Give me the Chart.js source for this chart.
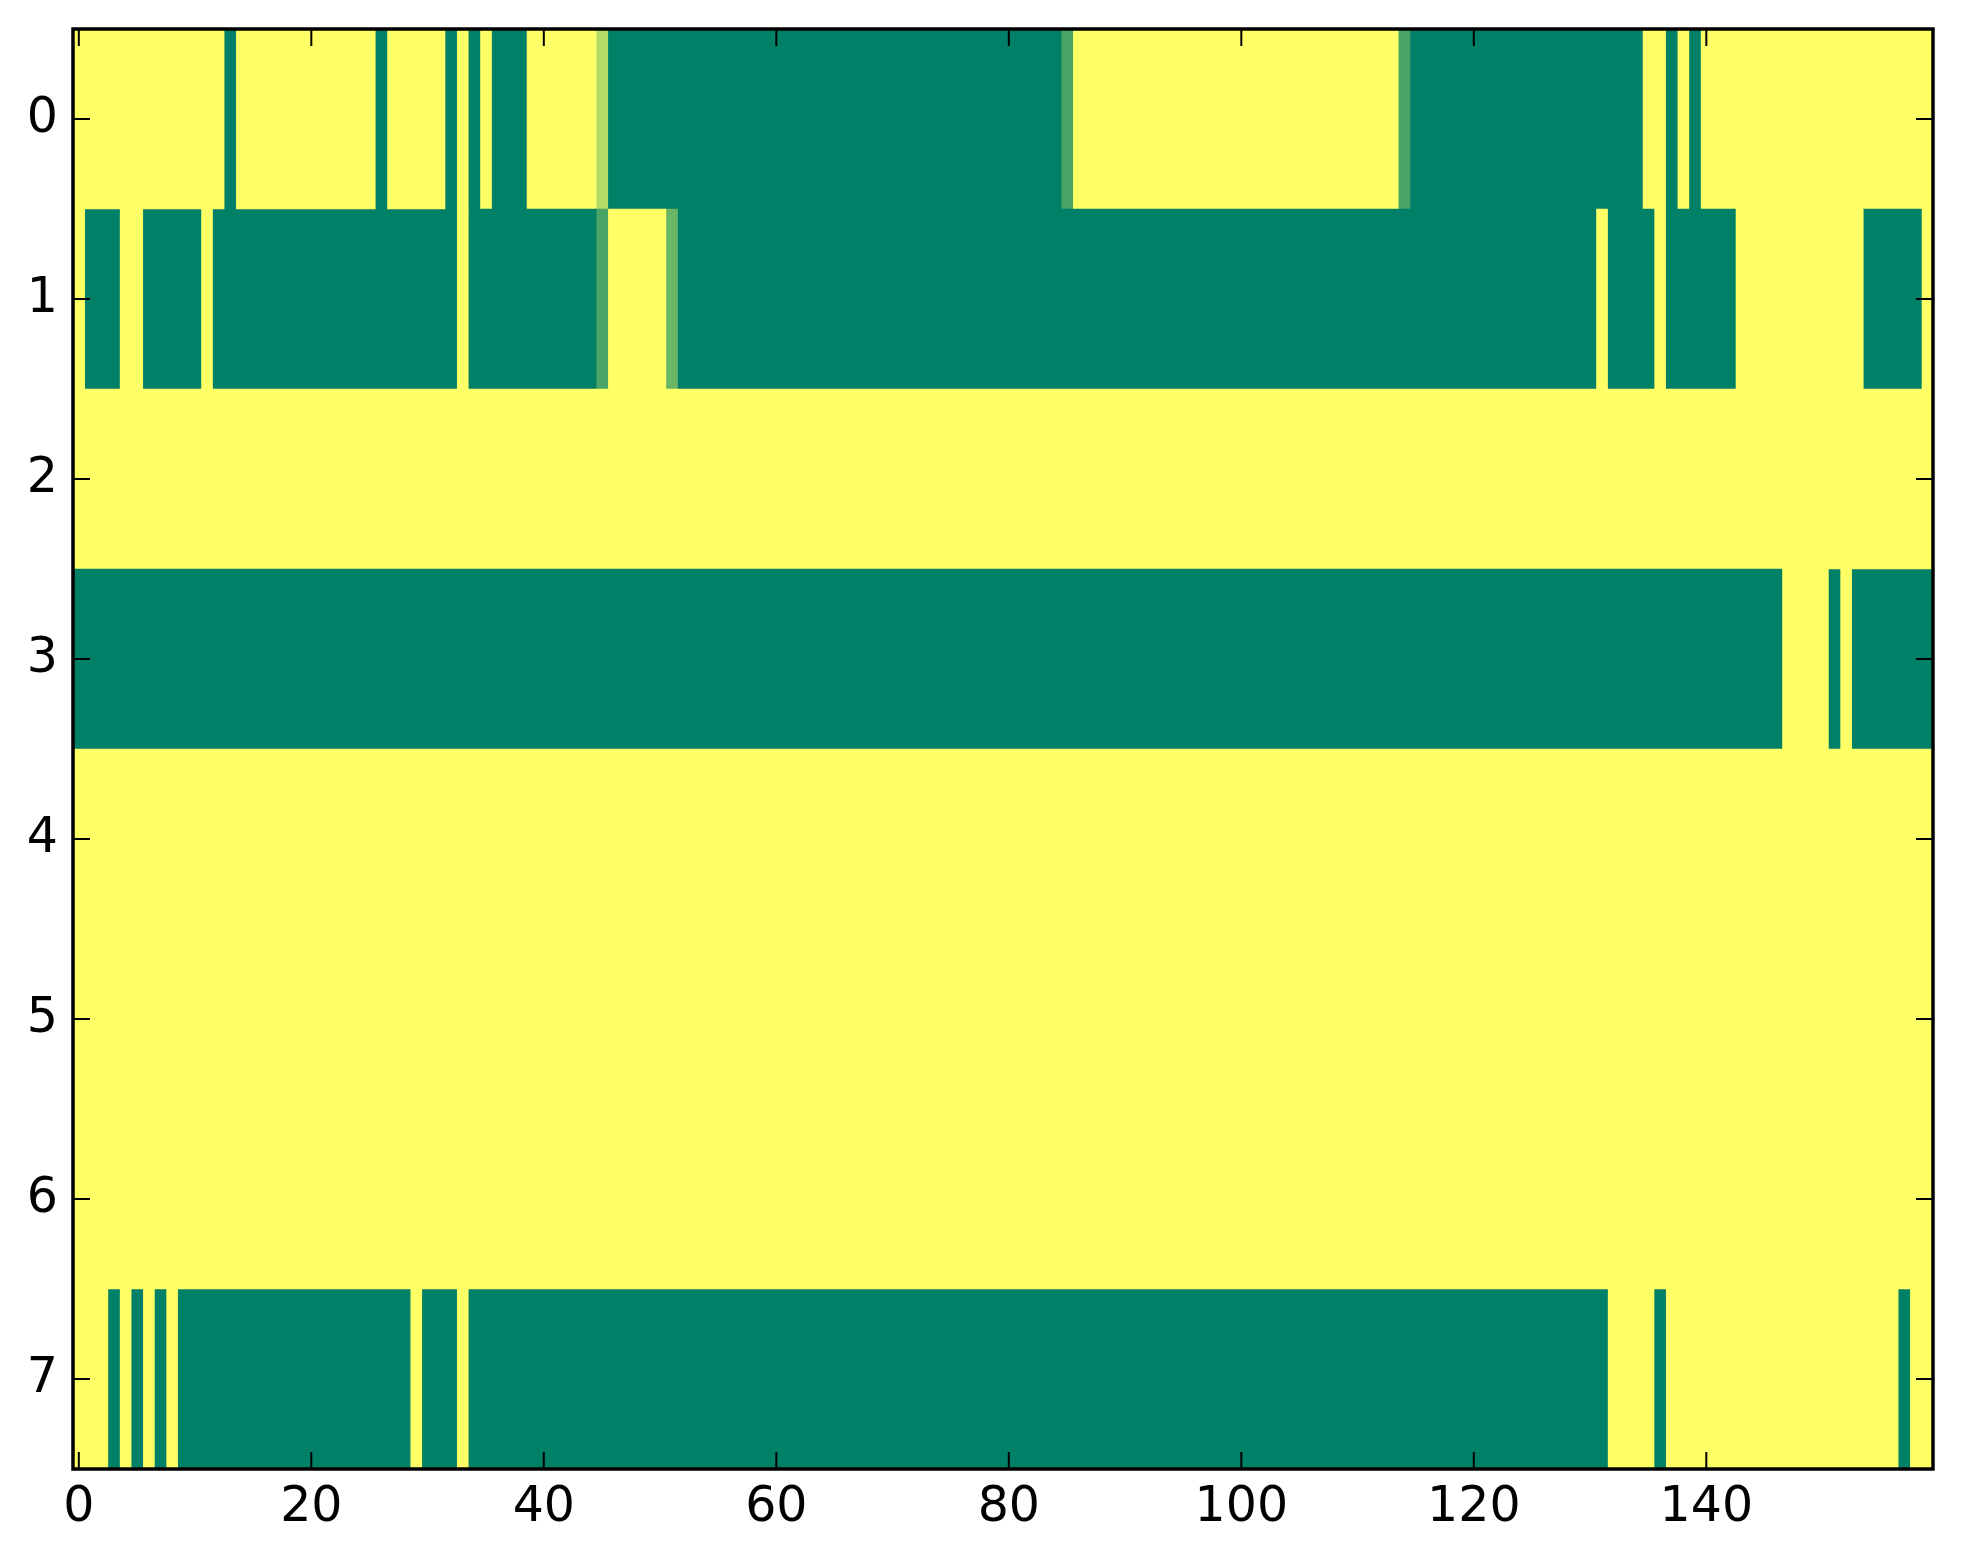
<!DOCTYPE html>
<html>
<head>
<meta charset="utf-8">
<title>heatmap</title>
<script src="https://cdn.jsdelivr.net/npm/chart.js@4.4.1/dist/chart.umd.min.js"></script>
<style>
  html, body { margin: 0; padding: 0; background: #fff; }
  canvas { display: block; }
</style>
</head>
<body>
<canvas id="heat" width="1963" height="1564"></canvas>
<script>
// valeurs (1 = jaune, 0 = vert)
const ROW_LABELS = ["0", "1", "2", "3", "4", "5", "6", "7"];
const X_TICKS = [0, 20, 40, 60, 80, 100, 120, 140];

const ROW_0 = [
  1,1,1,1,1,1,1,1,1,1,1,1,1,0,1,1,1,1,1,1,
  1,1,1,1,1,1,0,1,1,1,1,1,0,1,0,1,0,0,0,1,
  1,1,1,1,1,0.71,0,0,0,0,0,0,0,0,0,0,0,0,0,0,
  0,0,0,0,0,0,0,0,0,0,0,0,0,0,0,0,0,0,0,0,
  0,0,0,0,0,0.29,1,1,1,1,1,1,1,1,1,1,1,1,1,1,
  1,1,1,1,1,1,1,1,1,1,1,1,1,1,0.29,0,0,0,0,0,
  0,0,0,0,0,0,0,0,0,0,0,0,0,0,0,1,1,0,1,0,
  1,1,1,1,1,1,1,1,1,1,1,1,1,1,1,1,1,1,1,1
];
const ROW_1 = [
  1,0,0,0,1,1,0,0,0,0,0,1,0,0,0,0,0,0,0,0,
  0,0,0,0,0,0,0,0,0,0,0,0,0,1,0,0,0,0,0,0,
  0,0,0,0,0,0.29,1,1,1,1,1,0.42,0,0,0,0,0,0,0,0,
  0,0,0,0,0,0,0,0,0,0,0,0,0,0,0,0,0,0,0,0,
  0,0,0,0,0,0,0,0,0,0,0,0,0,0,0,0,0,0,0,0,
  0,0,0,0,0,0,0,0,0,0,0,0,0,0,0,0,0,0,0,0,
  0,0,0,0,0,0,0,0,0,0,0,1,0,0,0,0,1,0,0,0,
  0,0,0,1,1,1,1,1,1,1,1,1,1,1,0,0,0,0,0,1
];
const ROW_2 = [
  1,1,1,1,1,1,1,1,1,1,1,1,1,1,1,1,1,1,1,1,
  1,1,1,1,1,1,1,1,1,1,1,1,1,1,1,1,1,1,1,1,
  1,1,1,1,1,1,1,1,1,1,1,1,1,1,1,1,1,1,1,1,
  1,1,1,1,1,1,1,1,1,1,1,1,1,1,1,1,1,1,1,1,
  1,1,1,1,1,1,1,1,1,1,1,1,1,1,1,1,1,1,1,1,
  1,1,1,1,1,1,1,1,1,1,1,1,1,1,1,1,1,1,1,1,
  1,1,1,1,1,1,1,1,1,1,1,1,1,1,1,1,1,1,1,1,
  1,1,1,1,1,1,1,1,1,1,1,1,1,1,1,1,1,1,1,1
];
const ROW_3 = [
  0,0,0,0,0,0,0,0,0,0,0,0,0,0,0,0,0,0,0,0,
  0,0,0,0,0,0,0,0,0,0,0,0,0,0,0,0,0,0,0,0,
  0,0,0,0,0,0,0,0,0,0,0,0,0,0,0,0,0,0,0,0,
  0,0,0,0,0,0,0,0,0,0,0,0,0,0,0,0,0,0,0,0,
  0,0,0,0,0,0,0,0,0,0,0,0,0,0,0,0,0,0,0,0,
  0,0,0,0,0,0,0,0,0,0,0,0,0,0,0,0,0,0,0,0,
  0,0,0,0,0,0,0,0,0,0,0,0,0,0,0,0,0,0,0,0,
  0,0,0,0,0,0,0,1,1,1,1,0,1,0,0,0,0,0,0,0
];
const ROW_4 = [
  1,1,1,1,1,1,1,1,1,1,1,1,1,1,1,1,1,1,1,1,
  1,1,1,1,1,1,1,1,1,1,1,1,1,1,1,1,1,1,1,1,
  1,1,1,1,1,1,1,1,1,1,1,1,1,1,1,1,1,1,1,1,
  1,1,1,1,1,1,1,1,1,1,1,1,1,1,1,1,1,1,1,1,
  1,1,1,1,1,1,1,1,1,1,1,1,1,1,1,1,1,1,1,1,
  1,1,1,1,1,1,1,1,1,1,1,1,1,1,1,1,1,1,1,1,
  1,1,1,1,1,1,1,1,1,1,1,1,1,1,1,1,1,1,1,1,
  1,1,1,1,1,1,1,1,1,1,1,1,1,1,1,1,1,1,1,1
];
const ROW_5 = [
  1,1,1,1,1,1,1,1,1,1,1,1,1,1,1,1,1,1,1,1,
  1,1,1,1,1,1,1,1,1,1,1,1,1,1,1,1,1,1,1,1,
  1,1,1,1,1,1,1,1,1,1,1,1,1,1,1,1,1,1,1,1,
  1,1,1,1,1,1,1,1,1,1,1,1,1,1,1,1,1,1,1,1,
  1,1,1,1,1,1,1,1,1,1,1,1,1,1,1,1,1,1,1,1,
  1,1,1,1,1,1,1,1,1,1,1,1,1,1,1,1,1,1,1,1,
  1,1,1,1,1,1,1,1,1,1,1,1,1,1,1,1,1,1,1,1,
  1,1,1,1,1,1,1,1,1,1,1,1,1,1,1,1,1,1,1,1
];
const ROW_6 = [
  1,1,1,1,1,1,1,1,1,1,1,1,1,1,1,1,1,1,1,1,
  1,1,1,1,1,1,1,1,1,1,1,1,1,1,1,1,1,1,1,1,
  1,1,1,1,1,1,1,1,1,1,1,1,1,1,1,1,1,1,1,1,
  1,1,1,1,1,1,1,1,1,1,1,1,1,1,1,1,1,1,1,1,
  1,1,1,1,1,1,1,1,1,1,1,1,1,1,1,1,1,1,1,1,
  1,1,1,1,1,1,1,1,1,1,1,1,1,1,1,1,1,1,1,1,
  1,1,1,1,1,1,1,1,1,1,1,1,1,1,1,1,1,1,1,1,
  1,1,1,1,1,1,1,1,1,1,1,1,1,1,1,1,1,1,1,1
];
const ROW_7 = [
  1,1,1,0,1,0,1,0,1,0,0,0,0,0,0,0,0,0,0,0,
  0,0,0,0,0,0,0,0,0,1,0,0,0,1,0,0,0,0,0,0,
  0,0,0,0,0,0,0,0,0,0,0,0,0,0,0,0,0,0,0,0,
  0,0,0,0,0,0,0,0,0,0,0,0,0,0,0,0,0,0,0,0,
  0,0,0,0,0,0,0,0,0,0,0,0,0,0,0,0,0,0,0,0,
  0,0,0,0,0,0,0,0,0,0,0,0,0,0,0,0,0,0,0,0,
  0,0,0,0,0,0,0,0,0,0,0,0,1,1,1,1,0,1,1,1,
  1,1,1,1,1,1,1,1,1,1,1,1,1,1,1,1,1,0,1,1
];

const ROWS = [ROW_0, ROW_1, ROW_2, ROW_3, ROW_4, ROW_5, ROW_6, ROW_7];

const FONT = { family: "'DejaVu Sans', sans-serif", size: 49 };
const TICK_LEN = 17;

// colormap "summer" de matplotlib
function summer(v) {
  const r = Math.round(255 * v);
  const g = Math.round(255 * (0.5 + 0.5 * v));
  return `rgb(${r},${g},102)`;
}

// regroupe les cases consécutives de même valeur
function runsOf(row) {
  const out = [];
  let start = 0;
  for (let c = 1; c <= row.length; c++) {
    if (c === row.length || row[c] !== row[start]) {
      out.push({ from: start - 0.5, to: c - 0.5, v: row[start] });
      start = c;
    }
  }
  return out;
}

const RUNS = ROWS.map(runsOf);
const nSeg = Math.max(...RUNS.map(r => r.length));

const datasets = [];
for (let k = 0; k < nSeg; k++) {
  datasets.push({
    data: RUNS.map(r => (r[k] ? [r[k].from, r[k].to] : null)),
    backgroundColor: RUNS.map(r => (r[k] ? summer(r[k].v) : "rgba(0,0,0,0)")),
    borderWidth: 0,
    barPercentage: 1,
    categoryPercentage: 1,
    grouped: false,
  });
}

// cadre + petits ticks vers l'intérieur (style matplotlib classic)
const frameTicks = {
  id: "frameTicks",
  afterDatasetsDraw(chart) {
    const { ctx, chartArea } = chart;
    const { left, right, top, bottom } = chartArea;
    const xs = chart.scales.x;
    const ys = chart.scales.y;
    ctx.save();
    ctx.strokeStyle = "#000";
    ctx.lineWidth = 2;
    ctx.beginPath();
    xs.ticks.forEach(t => {
      const px = xs.getPixelForValue(t.value);
      ctx.moveTo(px, bottom); ctx.lineTo(px, bottom - TICK_LEN);
      ctx.moveTo(px, top); ctx.lineTo(px, top + TICK_LEN);
    });
    ys.ticks.forEach((t, i) => {
      const py = ys.getPixelForTick(i);
      ctx.moveTo(left, py); ctx.lineTo(left + TICK_LEN, py);
      ctx.moveTo(right, py); ctx.lineTo(right - TICK_LEN, py);
    });
    ctx.stroke();
    ctx.lineWidth = 3.5;
    ctx.strokeRect(left, top, right - left, bottom - top);
    ctx.restore();
  }
};

new Chart(document.getElementById("heat"), {
  type: "bar",
  data: { labels: ROW_LABELS, datasets },
  options: {
    indexAxis: "y",
    responsive: false,
    animation: false,
    devicePixelRatio: 1,
    layout: { padding: { top: 29, right: 30, left: 0, bottom: 0 } },
    plugins: { legend: { display: false }, tooltip: { enabled: false } },
    scales: {
      x: {
        type: "linear",
        min: -0.5,
        max: 159.5,
        grid: { display: false, drawTicks: false },
        border: { display: false },
        ticks: { font: FONT, color: "#000", padding: 10, maxRotation: 0 },
        afterBuildTicks: s => { s.ticks = X_TICKS.map(v => ({ value: v })); },
        afterFit: s => {
          s.height = 95;
          s.paddingLeft = 0;
          s.paddingRight = 0;
        },
      },
      y: {
        type: "category",
        labels: ROW_LABELS,
        grid: { display: false, drawTicks: false },
        border: { display: false },
        ticks: { font: FONT, color: "#000", padding: 15 },
        afterFit: s => {
          s.width = 73;
          s.paddingTop = 0;
          s.paddingBottom = 0;
        },
      }
    }
  },
  plugins: [frameTicks]
});
</script>
</body>
</html>
